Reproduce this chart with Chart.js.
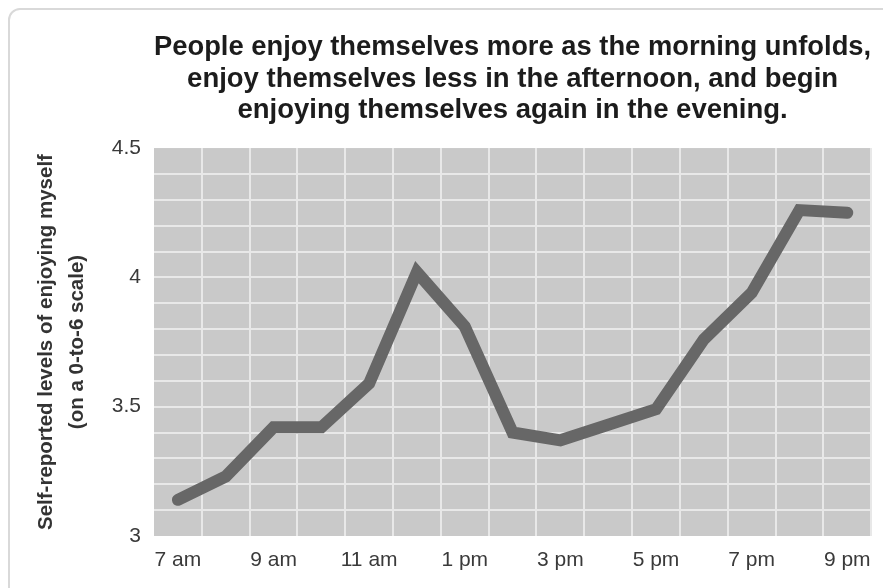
<!DOCTYPE html>
<html>
<head>
<meta charset="utf-8">
<script src="https://cdn.jsdelivr.net/npm/chart.js@4/dist/chart.umd.min.js"></script>
<style>
  html, body { margin: 0; padding: 0; background: #fff; overflow: hidden; }
  #wrap { position: relative; width: 883px; height: 588px; }
  #frame { position: absolute; left: 8px; top: 8px; width: 1000px; height: 1000px;
           border: 2px solid #d9d9d9; border-radius: 12px; box-sizing: border-box; }
  canvas { position: absolute; left: 0; top: 0; }
</style>
</head>
<body>
<div id="wrap">
  <div id="frame"></div>
  <canvas id="c" width="883" height="588"></canvas>
</div>
<script>
// ---- data ----
const hours = ['7 am','8 am','9 am','10 am','11 am','12 pm','1 pm','2 pm','3 pm','4 pm','5 pm','6 pm','7 pm','8 pm','9 pm'];
const enjoyment = [3.14, 3.23, 3.42, 3.42, 3.59, 4.02, 3.81, 3.40, 3.37, 3.43, 3.49, 3.76, 3.94, 4.26, 4.25];
const yTickLabels = [3, 3.5, 4, 4.5];
const titleLines = [
  'People enjoy themselves more as the morning unfolds,',
  'enjoy themselves less in the afternoon, and begin',
  'enjoying themselves again in the evening.'
];
const yTitleLines = ['Self-reported levels of enjoying myself', '(on a 0-to-6 scale)'];

const plotBg = {
  id: 'plotBg',
  beforeDraw(chart) {
    const {ctx, chartArea: a} = chart;
    ctx.save();
    ctx.fillStyle = '#c9c9c9';
    ctx.fillRect(a.left, a.top, a.right - a.left, a.bottom - a.top);
    ctx.restore();
  }
};

new Chart(document.getElementById('c'), {
  type: 'line',
  data: {
    labels: hours,
    datasets: [{
      data: enjoyment,
      borderColor: '#676767',
      borderWidth: 12,
      borderCapStyle: 'round',
      borderJoinStyle: 'miter',
      tension: 0,
      pointRadius: 0,
      fill: false
    }]
  },
  options: {
    responsive: false,
    animation: false,
    layout: { padding: { left: 0, right: 6, top: 0, bottom: 0 } },
    plugins: {
      legend: { display: false },
      tooltip: { enabled: false },
      title: {
        display: true,
        fullSize: false,
        text: titleLines,
        color: '#1c1c1c',
        font: { family: 'Liberation Sans, Arial, sans-serif', size: 27.5, weight: 'bold', lineHeight: 1.14 },
        padding: { top: 32, bottom: 22 }
      }
    },
    scales: {
      x: {
        offset: true,
        grid: {
          offset: true,
          drawTicks: false,
          lineWidth: 2,
          color: (c) => (c.index === 0 || c.index >= hours.length) ? 'rgba(0,0,0,0)' : '#e8e8e8'
        },
        border: { display: false },
        ticks: {
          autoSkip: false,
          maxRotation: 0,
          padding: 12,
          color: '#3a3a3a',
          font: { family: 'Liberation Sans, Arial, sans-serif', size: 21 },
          callback: function(v, i) { return i % 2 === 0 ? hours[i] : ''; }
        },
        afterFit: (s) => { s.height = 52; }
      },
      y: {
        min: 3,
        max: 4.5,
        grid: {
          drawTicks: false,
          lineWidth: 2,
          color: (c) => (c.tick && (Math.abs(c.tick.value - 3) < 1e-6 || Math.abs(c.tick.value - 4.5) < 1e-6)) ? 'rgba(0,0,0,0)' : '#e8e8e8'
        },
        border: { display: false },
        ticks: {
          stepSize: 0.1,
          autoSkip: false,
          padding: 13,
          color: '#3a3a3a',
          font: { family: 'Liberation Sans, Arial, sans-serif', size: 21 },
          callback: function(v) {
            const hit = yTickLabels.find(t => Math.abs(t - v) < 1e-6);
            return hit === undefined ? '' : String(hit);
          }
        },
        title: {
          display: true,
          text: yTitleLines,
          color: '#333',
          font: { family: 'Liberation Sans, Arial, sans-serif', size: 20.5, weight: 'bold', lineHeight: 1.5 },
          padding: { top: 31, bottom: 0 }
        },
        afterFit: (s) => { s.width = 154; }
      }
    }
  },
  plugins: [plotBg]
});
</script>
</body>
</html>
